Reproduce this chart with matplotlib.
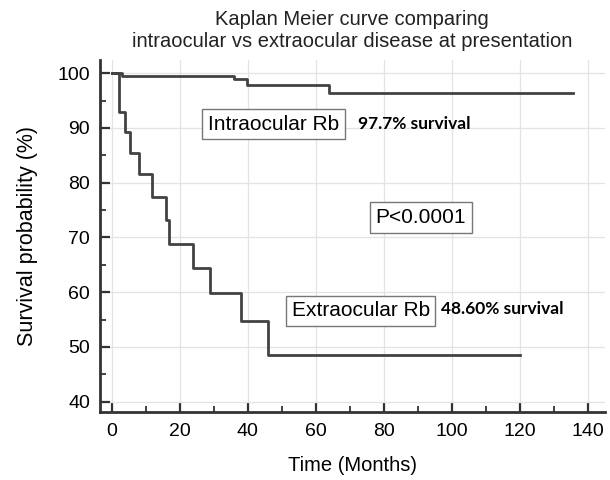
import matplotlib
matplotlib.use("Agg")
import matplotlib.pyplot as plt
from matplotlib.ticker import MultipleLocator

# Kaplan Meier step data (months, survival %)
intra_t = [0, 3.0, 36, 39.7, 63.9, 135.6]
intra_s = [100, 99.5, 98.9, 97.8, 96.3, 96.3]
extra_t = [0, 2.2, 3.9, 5.4, 8.1, 11.9, 16.0, 16.9, 23.8, 28.9, 37.9, 46.1, 120]
extra_s = [100, 93.0, 89.2, 85.4, 81.6, 77.4, 73.2, 68.8, 64.4, 59.8, 54.8, 48.6, 48.6]

title = "Kaplan Meier curve comparing\nintraocular vs extraocular disease at presentation"

plt.rcParams['font.family'] = ['Liberation Sans', 'DejaVu Sans']
line_col = "#424242"

fig = plt.figure(figsize=(6.1, 4.8), dpi=100)
ax = fig.add_axes([0.1636, 0.1425, 0.8277, 0.7335])

ax.step(intra_t, intra_s, where="post", color=line_col, lw=2.0, zorder=3)
ax.step(extra_t, extra_s, where="post", color=line_col, lw=2.0, zorder=3)

ax.set_xlim(-3.5, 145)
ax.set_ylim(38.2, 102.5)
ax.xaxis.set_major_locator(MultipleLocator(20))
ax.xaxis.set_minor_locator(MultipleLocator(10))
ax.yaxis.set_major_locator(MultipleLocator(10))
ax.yaxis.set_minor_locator(MultipleLocator(5))
ax.grid(True, which="major", color="#e3e3e3", lw=0.9, zorder=0)

for s in ["top", "right"]:
    ax.spines[s].set_visible(False)
for s in ["left", "bottom"]:
    ax.spines[s].set_linewidth(2.0)
    ax.spines[s].set_color("#333333")

ax.tick_params(which="major", direction="in", length=7, width=1.6, color="#333333",
               labelsize=14)
ax.tick_params(axis="x", which="major", pad=8.5)
ax.tick_params(axis="y", which="major", pad=7)
ax.tick_params(which="minor", direction="in", length=4, width=1.3, color="#333333")

ax.set_xlabel("Time (Months)", fontsize=14.5, labelpad=11)
ax.set_ylabel("Survival probability (%)", fontsize=15.5, labelpad=14)
ax.set_title(title, fontsize=14.5, pad=9, color="#222222")

box = dict(boxstyle="square,pad=0.28", fc="white", ec="#777777", lw=1.0)
ax.text(47.7, 90.7, "Intraocular Rb", fontsize=15, ha="center", va="center", bbox=box, zorder=4)
ax.text(90.9, 73.7, "P<0.0001", fontsize=15, ha="center", va="center", bbox=box, zorder=4)
ax.text(73.2, 56.6, "Extraocular Rb", fontsize=15, ha="center", va="center", bbox=box, zorder=4)

ax.text(72.5, 90.7, "97.7% survival", fontsize=12.5, fontweight="bold", family="Lato",
        ha="left", va="center", zorder=4)
ax.text(96.8, 56.9, "48.60% survival", fontsize=12.5, fontweight="bold", family="Lato",
        ha="left", va="center", zorder=4)

fig.savefig("out.png", dpi=100)
